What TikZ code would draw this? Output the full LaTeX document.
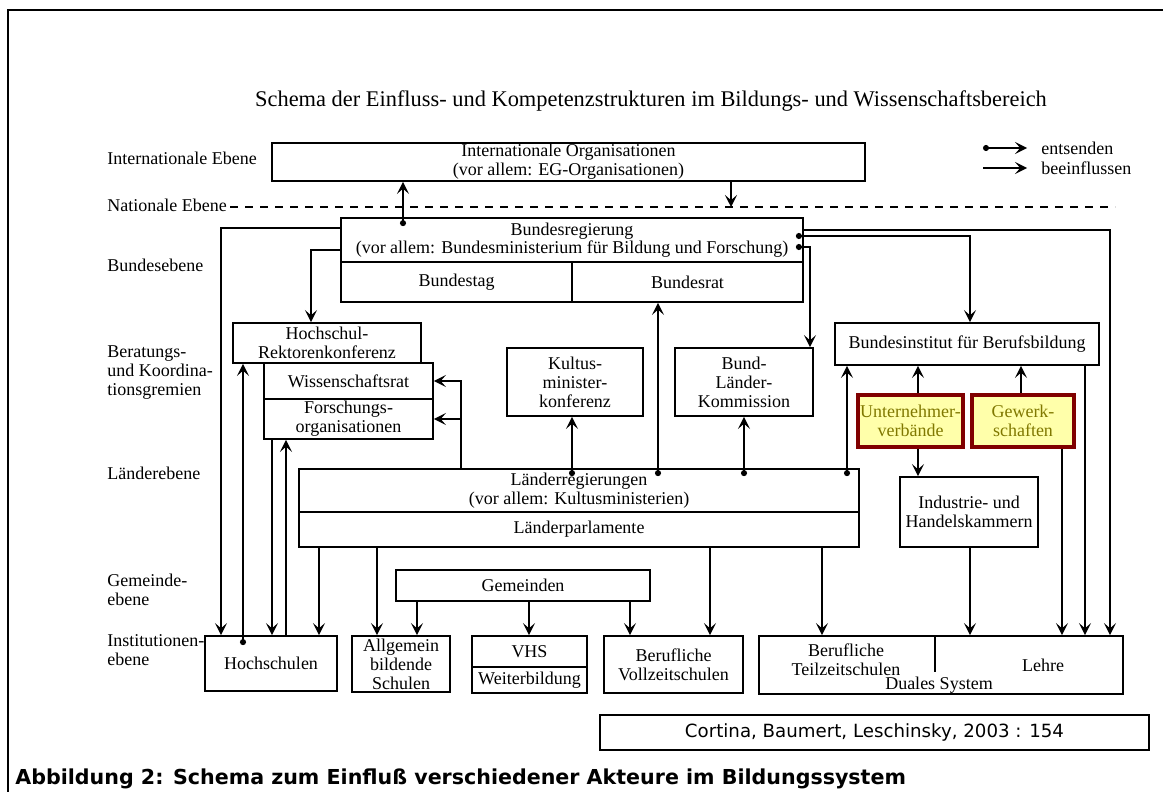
\documentclass[tikz,border=0pt]{standalone}
\usepackage{fontspec}
\setmainfont{Liberation Serif}
\newfontfamily\capfont{DejaVu Sans}
\usetikzlibrary{arrows.meta,calc}
\definecolor{unvfill}{RGB}{255,255,170}
\definecolor{unvborder}{RGB}{128,0,0}
\definecolor{unvtext}{RGB}{128,120,0}
\begin{document}
\begin{tikzpicture}[x=0.5pt,y=-0.5pt,
  spanbox/.style args={#1,#2,#3,#4}{at={({(#1+#3)/2},{(#2+#4)/2})}, anchor=center,
     minimum width={(#3-#1)*0.5pt}, minimum height={(#4-#2)*0.5pt}},
  box/.style={draw, line width=0.9pt, inner sep=0pt, align=center, font=\fontsize{9}{9.5}\selectfont},
  ybox/.style={box, draw=unvborder, line width=1.6pt, fill=unvfill, text=unvtext},
  lvl/.style={anchor=west, align=left, font=\fontsize{9}{9.5}\selectfont, inner sep=0pt},
  txt/.style={align=center, font=\fontsize{9}{9.5}\selectfont, inner sep=0pt},
  inf/.style={-{Stealth[length=6pt,width=6pt,inset=2.6pt]}, line width=0.8pt},
  ent/.style={{Circle[length=3pt]}-{Stealth[length=6pt,width=6pt,inset=2.6pt]}, line width=0.8pt},
  dashline/.style={dashed, dash pattern=on 4pt off 3.5pt, line width=0.8pt},
]
\useasboundingbox (0,0) rectangle (1163,792);
\draw[line width=0.6pt] (8,792) -- (8,10) -- (1163,10);

% title
\node[font=\fontsize{11.2}{13}\selectfont, inner sep=0pt] (title) at (651,101)
  {Schema der Einfluss- und Kompetenzstrukturen im Bildungs- und Wissenschaftsbereich};

% level labels
\node[lvl] (lint) at (107,158) {Internationale Ebene};
\node[lvl] (lnat) at (107,205) {Nationale Ebene};
\node[lvl] (lbund) at (107,265) {Bundesebene};
\node[lvl] (lber) at (107,373) {Beratungs-\\und Koordina-\\tionsgremien};
\node[lvl] (llaend) at (107,473) {Länderebene};
\node[lvl] (lgem) at (107,590) {Gemeinde-\\ebene};
\node[lvl] (linst) at (107,650) {Institutionen-\\ebene};

% dashed national line
\coordinate (natL) at (230,207);
\coordinate (natR) at (1115,207);
\draw[dashline] (natL) -- (natR);

% legend
\coordinate (le1) at (983,148); \coordinate (le2) at (1027,148);
\coordinate (lb1) at (983,168); \coordinate (lb2) at (1027,168);
\draw[ent] (le1) -- (le2);
\draw[inf] (lb1) -- (lb2);
\node[lvl] (lent) at (1041,148) {entsenden};
\node[lvl] (lbee) at (1041,168) {beeinflussen};

% boxes
\node[box, spanbox={272,143,865,181}] (intorg) {Internationale Organisationen\\(vor allem: EG-Organisationen)};
\node[box, spanbox={341,218,803,262}, font=\fontsize{9}{9}\selectfont] (breg) {Bundesregierung\\(vor allem: Bundesministerium für Bildung und Forschung)};
\node[box, spanbox={341,262,572,302}] (btag) {Bundestag};
\node[box, spanbox={572,262,803,302}] (brat) {Bundesrat};

\node[box, spanbox={233,323,421,363}] (hrk) {Hochschul-\\Rektorenkonferenz};
\node[box, spanbox={264,363,433,399}] (wrat) {Wissenschaftsrat};
\node[box, spanbox={264,399,433,439}] (forg) {Forschungs-\\organisationen};
\node[box, spanbox={507,348,643,416}] (kmk) {Kultus-\\minister-\\konferenz};
\node[box, spanbox={675,348,813,416}] (blk) {Bund-\\Länder-\\Kommission};
\node[box, spanbox={835,323,1099,365}] (bibb) {Bundesinstitut für Berufsbildung};
\node[ybox, spanbox={858,395,963,447}] (unv) {Unternehmer-\\verbände};
\node[ybox, spanbox={972,395,1074,447}] (gew) {Gewerk-\\schaften};
\node[box, spanbox={900,477,1038,547}] (ihk) {Industrie- und\\Handelskammern};

\node[box, spanbox={299,469,859,512}] (lreg) {Länderregierungen\\(vor allem: Kultusministerien)};
\node[box, spanbox={299,512,859,547}] (lparl) {Länderparlamente};

\node[box, spanbox={396,570,650,601}] (gem) {Gemeinden};

\node[box, spanbox={205,636,337,691}] (hs) {Hochschulen};
\node[box, spanbox={352,636,450,692}] (abs) {Allgemein\\bildende\\Schulen};
\node[box, spanbox={472,636,587,667}] (vhs) {VHS};
\node[box, spanbox={472,667,587,693}] (wb) {Weiterbildung};
\node[box, spanbox={604,636,743,693}] (bvs) {Berufliche\\Vollzeitschulen};
\node[box, spanbox={759,636,1123,694}] (duales) {};
\draw[line width=0.9pt] (935,0 |- duales.north) -- (935,672);
\node[txt] (btz) at (846,660) {Berufliche\\Teilzeitschulen};
\node[txt] (lehre) at (1043,665) {Lehre};
\node[txt] (dsys) at (939,685) {Duales System};

% citation and caption
\node[draw, line width=0.6pt, inner sep=0pt, spanbox={600,715,1149,750},
  font=\capfont\fontsize{9.1}{11}\selectfont] (cite) {Cortina, Baumert, Leschinsky, 2003 : 154};
\node[anchor=west, inner sep=0pt, font=\capfont\bfseries\fontsize{10.3}{12}\selectfont] (cap) at (15,779)
  {Abbildung 2: Schema zum Einfluß verschiedener Akteure im Bildungssystem};

% connectors: Bund
\draw[ent] ($(403,0 |- breg.north)+(0,9)$) -- (403,0 |- intorg.south);
\draw[inf] (731,0 |- intorg.south) -- (731,0 |- natL);
\draw[inf] (0,228 -| breg.west) -| (221,0 |- hs.north);
\draw[inf] (0,250 -| breg.west) -| (311,0 |- hrk.north);
\draw[inf] (0,230 -| breg.east) -| (1110,0 |- duales.north);
\draw[ent] ($(0,236 -| breg.east)+(-8,0)$) -| (970,0 |- bibb.north);
\draw[ent] ($(0,247 -| breg.east)+(-8,0)$) -| (810,0 |- blk.north);

% connectors: Laender
\draw[ent] ($(658,0 |- lreg.north)+(0,8)$) -- (658,0 |- brat.south);
\draw[ent] ($(572,0 |- lreg.north)+(0,8)$) -- (572,0 |- kmk.south);
\draw[ent] ($(744,0 |- lreg.north)+(0,8)$) -- (744,0 |- blk.south);
\draw[ent] ($(847,0 |- lreg.north)+(0,8)$) -- (847,0 |- bibb.south);
\draw[inf] (461,0 |- lreg.north) |- (wrat.east);
\draw[inf] (461,0 |- lreg.north) |- (forg.east);

% Hochschulen
\draw[ent] ($(243,0 |- hs.north)+(0,10)$) -- (243,0 |- hrk.south);
\draw[inf] (272,0 |- forg.south) -- (272,0 |- hs.north);
\draw[inf] (286,0 |- hs.north) -- (286,0 |- forg.south);
\draw[inf] (319,0 |- lparl.south) -- (319,0 |- hs.north);

% Laenderparlamente and Gemeinden
\draw[inf] (377,0 |- lparl.south) -- (377,0 |- abs.north);
\draw[inf] (417,0 |- gem.south) -- (417,0 |- abs.north);
\draw[inf] (529,0 |- gem.south) -- (529,0 |- vhs.north);
\draw[inf] (630,0 |- gem.south) -- (630,0 |- bvs.north);
\draw[inf] (710,0 |- lparl.south) -- (710,0 |- bvs.north);
\draw[inf] (822,0 |- lparl.south) -- (822,0 |- duales.north);

% Berufsbildung
\draw[inf] (918,0 |- unv.north) -- (918,0 |- bibb.south);
\draw[inf] (1021,0 |- gew.north) -- (1021,0 |- bibb.south);
\draw[inf] (918,0 |- unv.south) -- (918,0 |- ihk.north);
\draw[inf] (970,0 |- ihk.south) -- (970,0 |- duales.north);
\draw[inf] (1062,0 |- gew.south) -- (1062,0 |- duales.north);
\draw[inf] (1085,0 |- bibb.south) -- (1085,0 |- duales.north);
\end{tikzpicture}
\end{document}
